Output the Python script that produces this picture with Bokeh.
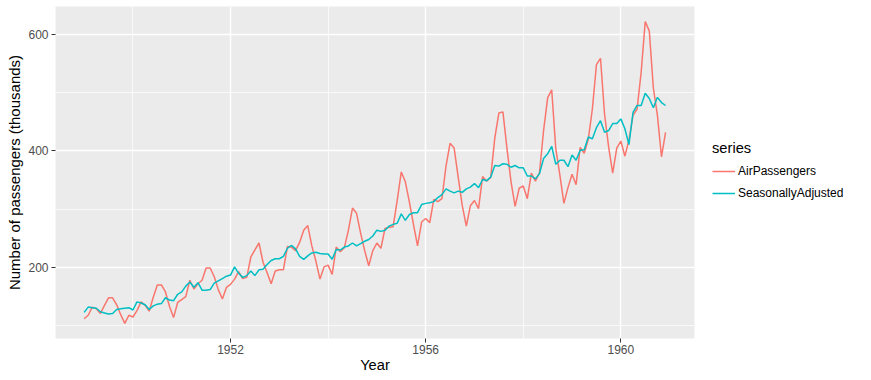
from bokeh.plotting import figure
from bokeh.models import FixedTicker, Legend, LegendItem, Range1d, ColumnDataSource
from bokeh.embed import file_html
from bokeh.resources import INLINE

years = list(range(1949, 1961))

air_passengers = [
    112, 118, 132, 129, 121, 135, 148, 148, 136, 119, 104, 118,
    115, 126, 141, 135, 125, 149, 170, 170, 158, 133, 114, 140,
    145, 150, 178, 163, 172, 178, 199, 199, 184, 162, 146, 166,
    171, 180, 193, 181, 183, 218, 230, 242, 209, 191, 172, 194,
    196, 196, 236, 235, 229, 243, 264, 272, 237, 211, 180, 201,
    204, 188, 235, 227, 234, 264, 302, 293, 259, 229, 203, 229,
    242, 233, 267, 269, 270, 315, 364, 347, 312, 274, 237, 278,
    284, 277, 317, 313, 318, 374, 413, 405, 355, 306, 271, 306,
    315, 301, 356, 348, 355, 422, 465, 467, 404, 347, 305, 336,
    340, 318, 362, 348, 363, 435, 491, 505, 404, 359, 310, 337,
    360, 342, 406, 396, 420, 472, 548, 559, 463, 407, 362, 405,
    417, 391, 419, 461, 472, 535, 622, 606, 508, 461, 390, 432,
]

seasonally_adjusted = [
    123, 132, 131, 130, 124, 122, 120, 121, 128, 129, 130, 131,
    127, 141, 139, 136, 128, 134, 137, 138, 148, 144, 143, 154,
    158, 168, 175, 166, 174, 161, 161, 162, 173, 177, 181, 185,
    187, 201, 190, 183, 186, 194, 186, 196, 197, 205, 212, 215,
    215, 219, 233, 238, 232, 219, 214, 220, 225, 226, 224, 223,
    223, 214, 231, 230, 235, 237, 242, 237, 241, 245, 248, 254,
    264, 262, 264, 271, 274, 276, 292, 281, 291, 294, 294, 308,
    310, 311, 313, 320, 325, 335, 331, 328, 331, 329, 335, 338,
    344, 337, 351, 349, 355, 375, 374, 378, 377, 372, 375, 371,
    371, 357, 357, 352, 361, 387, 395, 408, 377, 384, 384, 373,
    393, 384, 401, 402, 424, 421, 440, 452, 432, 435, 447, 447,
    455, 438, 411, 466, 478, 478, 499, 490, 474, 492, 483, 478,
]

x_ticks = [1952, 1956, 1960]
x_minor_ticks = [1950, 1954, 1958]
y_ticks = [200, 400, 600]
y_minor_ticks = [100, 300, 500]
series_names = ["AirPassengers", "SeasonallyAdjusted"]
series_colors = ["#F8766D", "#00BFC4"]

time = [y + m / 12 for y in years for m in range(12)]
source = ColumnDataSource(dict(t=time, ap=air_passengers, sa=seasonally_adjusted))

FONT = "Liberation Sans"

p = figure(
    frame_width=639, frame_height=332,
    output_backend="svg", toolbar_location=None,
    x_range=Range1d(1948.413, 1961.51),
    y_range=Range1d(78.1, 647.9),
    min_border_left=55, min_border_right=177, min_border_top=6, min_border_bottom=42,
    background_fill_color="#EBEBEB", border_fill_color="white",
)
p.outline_line_color = None

r1 = p.line("t", "ap", source=source, line_color=series_colors[0], line_width=1.5)
r2 = p.line("t", "sa", source=source, line_color=series_colors[1], line_width=1.5)

# legend key backgrounds
kb1 = p.rect(x=[], y=[], width=1, height=1, fill_color="#F2F2F2", line_color=None)
kb2 = p.rect(x=[], y=[], width=1, height=1, fill_color="#F2F2F2", line_color=None)

for ax, ticks, minor in ((p.xaxis[0], x_ticks, x_minor_ticks), (p.yaxis[0], y_ticks, y_minor_ticks)):
    ax.ticker = FixedTicker(ticks=ticks, minor_ticks=minor)
    ax.axis_line_color = None
    ax.major_tick_line_color = "#333333"
    ax.major_tick_line_width = 1
    ax.major_tick_out = 4
    ax.major_tick_in = 0
    ax.minor_tick_line_color = None
    ax.major_label_text_font = FONT
    ax.major_label_text_font_size = "12px"
    ax.major_label_text_color = "#4D4D4D"
    ax.axis_label_text_font = FONT
    ax.axis_label_text_font_style = "normal"
    ax.axis_label_text_color = "black"

p.xaxis.axis_label_text_font_size = "14.7px"
p.yaxis.axis_label_text_font_size = "15px"
p.xaxis.axis_label = "Year"
p.yaxis.axis_label = "Number of passengers (thousands)"
p.xaxis.major_label_standoff = 2
p.xaxis.axis_label_standoff = 0
p.yaxis.major_label_standoff = 3
p.yaxis.axis_label_standoff = 2

for g in (p.xgrid[0], p.ygrid[0]):
    g.grid_line_color = "white"
    g.grid_line_width = 1.4
    g.minor_grid_line_color = "white"
    g.minor_grid_line_width = 0.7

legend = Legend(
    items=[
        LegendItem(label=series_names[0], renderers=[kb1, r1]),
        LegendItem(label=series_names[1], renderers=[kb2, r2]),
    ],
    location=(18, 134),
    title="series",
    title_text_font=FONT, title_text_font_size="14.7px", title_text_font_style="normal",
    title_text_color="black", title_standoff=4,
    label_text_font=FONT, label_text_font_size="12px", label_text_color="black",
    label_text_baseline="middle", label_standoff=3, label_height=22,
    glyph_width=23, glyph_height=22, spacing=0, padding=0, margin=0,
    border_line_color=None, background_fill_color="white", background_fill_alpha=1,
)
p.add_layout(legend, "right")

open("out.html", "w").write(file_html(p, INLINE))
